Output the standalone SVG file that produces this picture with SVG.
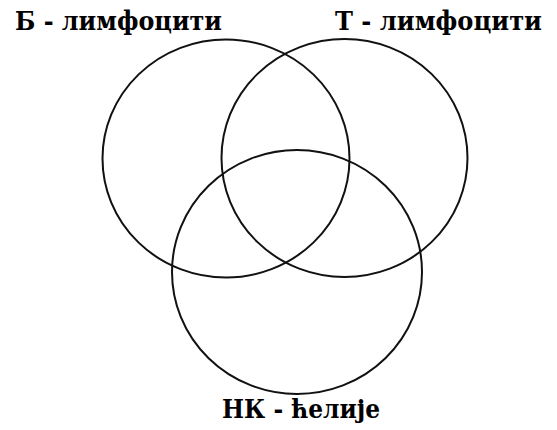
<svg xmlns="http://www.w3.org/2000/svg" width="557" height="430" viewBox="0 0 557 430">
<style>
.c{fill:none;stroke:#111;stroke-width:2}
.t{font-family:"DejaVu Serif",serif;font-stretch:condensed;font-weight:700;font-size:26px;fill:#000}
</style>
<rect width="557" height="430" fill="#fff"/>
<g id="b-limfociti"><ellipse class="c" cx="226" cy="158.5" rx="123.5" ry="119"/><text class="t" x="15" y="30" textLength="207" lengthAdjust="spacingAndGlyphs">Б - лимфоцити</text></g>
<g id="t-limfociti"><ellipse class="c" cx="344.5" cy="158" rx="123" ry="119"/><text class="t" x="335" y="30" textLength="207" lengthAdjust="spacingAndGlyphs">Т - лимфоцити</text></g>
<g id="nk-celije"><ellipse class="c" cx="297" cy="272" rx="125" ry="122"/><text class="t" x="222" y="418" textLength="158" lengthAdjust="spacingAndGlyphs">НК - ћелије</text></g>
<g id="connectors"></g>
</svg>
